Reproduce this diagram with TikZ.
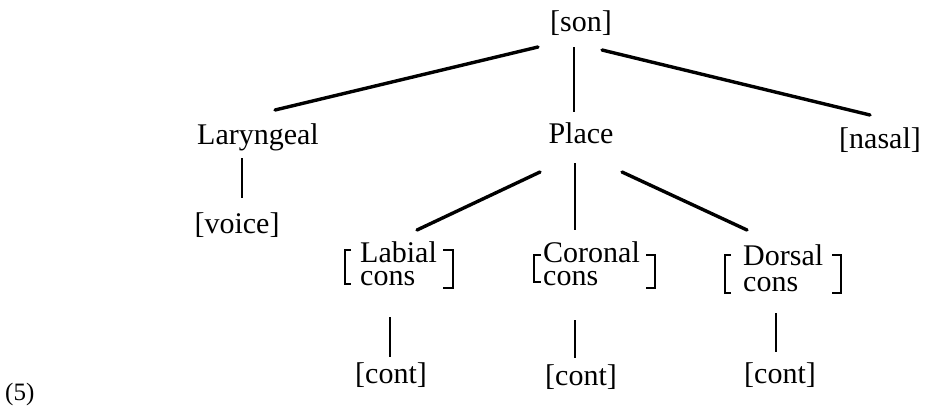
\documentclass[tikz,border=0pt]{standalone}
\usepackage{fontspec}
\setmainfont{Liberation Serif}
\usetikzlibrary{calc}
\newcommand{\twoline}[3]{\fontsize{30}{#3}\selectfont\begin{tabular}[t]{@{}l@{}}#1\\#2\end{tabular}}
\begin{document}
\begin{tikzpicture}[x=1pt,y=-1pt,
  lbl/.style={inner sep=0pt,anchor=base,font=\fontsize{30}{36}\selectfont},
  lblw/.style={lbl,anchor=base west},
  diag/.style={line width=3.4pt,line cap=round},
  vert/.style={line width=2.7pt,line cap=butt},
  brk/.style={line width=2.2pt,line join=miter}]
\useasboundingbox (0,0) rectangle (925,405);
% nodes
\node[lbl] (son) at (581,31) {[son]};
\node[lbl] (lar) at (258,144) {Laryngeal};
\node[lbl] (place) at (581,143) {Place};
\node[lbl] (nasal) at (880,148) {[nasal]};
\node[lbl] (voice) at (237,233) {[voice]};
\node[lblw] (lab) at (360,262) {\twoline{Labial}{cons}{23}};
\node[lblw] (cor) at (543,262) {\twoline{Coronal}{cons}{23}};
\node[lblw] (dor) at (743,265) {\twoline{Dorsal}{cons}{26}};
\node[lbl] (cont1) at (391,383) {[cont]};
\node[lbl] (cont2) at (581,385) {[cont]};
\node[lbl] (cont3) at (780,383) {[cont]};
\node[inner sep=0pt,anchor=base west,font=\fontsize{25}{30}\selectfont] (ex) at (5,400) {(5)};
% connectors
\draw[diag] ($(son.base)+(-43,16)$) -- ($(lar.base)+(17,-34)$);
\draw[vert] ($(son.base)+(-7,16)$) -- ($(place.base)+(-7,-31)$);
\draw[diag] ($(son.base)+(21,19)$) -- ($(nasal.base)+(-10,-33)$);
\draw[vert] ($(lar.base)+(-16,14)$) -- ($(voice.base)+(5,-35)$);
\draw[diag] ($(place.base)+(-41,29)$) -- ($(lab.base west)+(57,-32)$);
\draw[vert] ($(place.base)+(-6,20)$) -- ($(cor.base west)+(32,-32)$);
\draw[diag] ($(place.base)+(41,29)$) -- ($(dor.base west)+(4,-35)$);
\draw[vert] ($(lab.base west)+(30,55)$) -- ($(cont1.base)+(-1,-26)$);
\draw[vert] ($(cor.base west)+(32,58)$) -- ($(cont2.base)+(-6,-27)$);
\draw[vert] ($(dor.base west)+(33,48)$) -- ($(cont3.base)+(-4,-31)$);
% brackets
\draw[brk] (351,250) -- (345,250) -- (345,284) -- (351,284);
\draw[brk] (443,250) -- (453,250) -- (453,288) -- (443,288);
\draw[brk] (541,255) -- (534,255) -- (534,282) -- (541,282);
\draw[brk] (646,255) -- (655,255) -- (655,288) -- (646,288);
\draw[brk] (731,255) -- (725,255) -- (725,293) -- (731,293);
\draw[brk] (832,255) -- (841,255) -- (841,293) -- (832,293);
\end{tikzpicture}
\end{document}
